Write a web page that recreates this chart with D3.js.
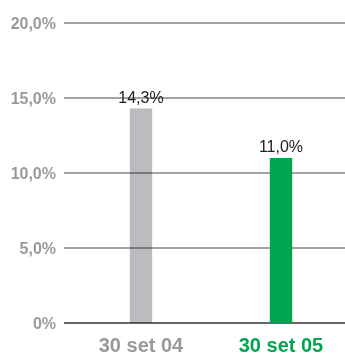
<!DOCTYPE html>
<html>
<head>
<meta charset="utf-8">
<script src="https://cdn.jsdelivr.net/npm/d3@7"></script>
<style>
  html, body { margin: 0; padding: 0; background: #fff; }
  svg { display: block; font-family: "Liberation Sans", Arial, sans-serif; }
</style>
</head>
<body>
<svg id="chart" width="345" height="356"></svg>
<script>
// Dati
const categories = ["30 set 04", "30 set 05"];
const values = [14.3, 11.0];
const valueLabels = ["14,3%", "11,0%"];
const tickValues = [0, 5, 10, 15, 20];
const tickLabels = ["0%", "5,0%", "10,0%", "15,0%", "20,0%"];
const barColors = ["#bbbcc0", "#00a64f"];
const labelColors = ["#999999", "#00a64f"];

const svg = d3.select("#chart");
const margin = { left: 64, right: 0, top: 23, bottom: 33 };
const W = 345, H = 356;

const y = d3.scaleLinear().domain([0, 20]).range([H - margin.bottom, margin.top]);
const x = d3.scaleBand().domain(categories).range([71, 351]).paddingInner(0.84).paddingOuter(0.42);

// gridlines
const grid = svg.append("g");
grid.selectAll("line").data(tickValues).join("line")
  .attr("x1", margin.left).attr("x2", W)
  .attr("y1", d => y(d)).attr("y2", d => y(d))
  .attr("stroke", d => d === 0 ? "#333" : "#868686")
  .attr("stroke-width", d => d === 0 ? 1.6 : 1.4);

// tick labels
svg.append("g").selectAll("text").data(tickValues).join("text")
  .attr("x", 56).attr("y", d => y(d))
  .attr("dy", "0.35em")
  .attr("text-anchor", "end")
  .attr("font-size", 16).attr("font-weight", "bold")
  .attr("fill", "#9a9a9a")
  .text((d, i) => tickLabels[i]);

// bars (the grey one lets the gridline show through)
svg.append("g").selectAll("rect").data(categories).join("rect")
  .attr("x", d => x(d))
  .attr("width", x.bandwidth())
  .attr("y", (d, i) => y(values[i]))
  .attr("height", (d, i) => y(0) - y(values[i]))
  .attr("fill", (d, i) => barColors[i])
  .style("mix-blend-mode", (d, i) => i === 0 ? "multiply" : "normal");

// value labels
svg.append("g").selectAll("text").data(categories).join("text")
  .attr("x", d => x(d) + x.bandwidth() / 2)
  .attr("y", (d, i) => y(values[i]) - 6)
  .attr("text-anchor", "middle")
  .attr("font-size", 16)
  .attr("fill", "#222")
  .text((d, i) => valueLabels[i]);

// category labels
svg.append("g").selectAll("text").data(categories).join("text")
  .attr("x", d => x(d) + x.bandwidth() / 2)
  .attr("y", 352)
  .attr("text-anchor", "middle")
  .attr("font-size", 20).attr("font-weight", "bold")
  .attr("fill", (d, i) => labelColors[i])
  .text(d => d);
</script>
</body>
</html>
